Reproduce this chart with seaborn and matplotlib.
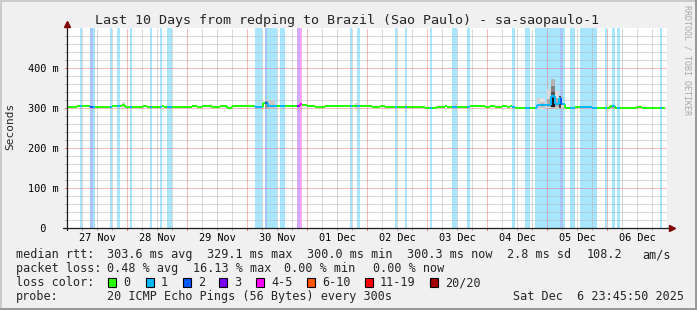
import numpy as np
import pandas as pd
import matplotlib
matplotlib.use("Agg")
import matplotlib.pyplot as plt
import seaborn as sns
from matplotlib.patches import Rectangle
from matplotlib.transforms import blended_transform_factory

# ---------------- data ----------------
day_labels = ["27 Nov", "28 Nov", "29 Nov", "30 Nov", "01 Dec",
              "02 Dec", "03 Dec", "04 Dec", "05 Dec", "06 Dec"]
y_tick_values = [0, 100, 200, 300, 400]
y_tick_labels = ["  0", "100 m", "200 m", "300 m", "400 m"]

# median rtt in ms, step function (hour offset from start of window)
median_start_h = [0.0, 4.0, 9.2, 18.0, 22.0, 23.2, 30.4, 32.0, 38.0, 38.8,
                  50.0, 52.0, 54.0, 58.0, 61.2, 64.0, 66.0, 75.2, 78.4, 80.4,
                  93.2, 94.0, 96.0, 99.2, 103.2, 122.0, 125.2, 127.2, 143.2, 148.0,
                  151.2, 152.0, 161.2, 167.2, 169.2, 171.2, 174.0, 176.0, 177.2, 178.0,
                  179.2, 188.0, 193.6, 195.2, 196.8, 197.6, 199.2, 203.2, 210.0, 217.2,
                  219.2, 228.0, 230.0]
median_ms = [302.5, 305.0, 302.5, 305.0, 307.5, 302.5, 305.0, 302.5, 305.0, 302.5,
             305.0, 302.5, 305.0, 302.5, 305.0, 300.0, 305.0, 302.5, 312.0, 305.0,
             310.0, 307.5, 305.0, 302.5, 305.0, 302.5, 305.0, 302.5, 300.0, 302.5,
             305.0, 302.5, 305.0, 302.5, 305.0, 302.5, 305.0, 302.5, 305.0, 302.5,
             300.0, 307.5, 330.0, 310.0, 325.0, 310.0, 300.0, 302.5, 300.0, 305.0,
             300.0, 302.5, 300.0]
median_end_h = 239.2

# packet loss periods (lost pings out of 20)
loss_start_h = [5.2, 9.2, 10.2, 17.2, 20.0, 25.2, 33.2, 37.2, 40.0, 75.2,
                79.2, 80.0, 85.2, 92.0, 93.2, 113.2, 116.0, 131.2, 135.2, 145.2,
                154.0, 160.0, 178.0, 183.2, 187.2, 197.2, 198.0, 201.2, 205.2, 215.2,
                218.0, 220.0, 237.2]
loss_end_h = [6.0, 10.2, 11.2, 18.0, 21.2, 26.0, 34.0, 38.0, 42.0, 78.0,
              80.0, 84.0, 87.2, 93.2, 94.0, 114.0, 117.2, 132.0, 136.0, 146.0,
              156.0, 161.2, 179.2, 185.2, 197.2, 198.0, 199.2, 203.2, 212.0, 216.0,
              219.2, 221.2, 238.0]
loss_bucket = [1, 2, 1, 1, 1, 1, 1, 1, 1, 1,
               2, 1, 1, 3, 4, 1, 1, 1, 1, 1,
               1, 1, 1, 1, 1, 2, 1, 1, 1, 1,
               1, 1, 1]

# smoke (ping spread), drawn light to dark
smoke_start_h = [22.0, 33.2, 57.2, 79.2, 79.2, 115.2, 135.2, 155.2,
                 188.0, 189.2, 189.2, 191.2, 192.0, 192.0, 193.6, 193.6, 193.6, 193.6,
                 195.2, 195.2, 196.8, 197.6, 217.2, 237.2]
smoke_end_h = [23.2, 34.0, 58.0, 83.2, 80.4, 117.2, 136.0, 156.0,
               189.2, 191.2, 191.2, 192.0, 193.6, 193.6, 195.2, 195.2, 195.2, 195.2,
               196.8, 196.8, 197.6, 199.2, 218.8, 238.4]
smoke_low_ms = [300, 300, 300, 300, 300, 300, 300, 300,
                298, 298, 300, 300, 300, 302, 300, 302, 305, 303,
                300, 302, 300, 300, 300, 300]
smoke_high_ms = [315, 310, 310, 320, 318, 312, 310, 311,
                 325, 325, 315, 312, 347, 322, 372, 355, 340, 325,
                 342, 325, 330, 315, 307, 304]
smoke_gray = ["#d8d8d8", "#d8d8d8", "#dcdcdc", "#c8c8c8", "#909090", "#d4d4d4", "#d0d0d0", "#c8c8c8",
              "#d0d0d0", "#e0e0e0", "#c0c0c0", "#d8d8d8", "#d8d8d8", "#a8a8a8", "#b4b4b4", "#808080",
              "#505050", "#1a1a1a", "#dadada", "#a8a8a8", "#484848", "#d8d8d8", "#a0a0a0", "#d8d8d8"]

loss_legend_labels = ["0", "1", "2", "3", "4-5", "6-10", "11-19", "20/20"]
loss_colors = ["#26ff00", "#00b8ff", "#0059ff", "#7e00ff",
               "#ff00ff", "#ff5500", "#ff0000", "#a10000"]

# ---------------- figure ----------------
W, H = 697, 310
sns.set_style("white")
plt.rcParams["font.family"] = ["DejaVu Sans Mono", "DejaVu Sans"]

fig = plt.figure(figsize=(W / 100, H / 100), dpi=100)
fig.patch.set_facecolor("#f0f0f0")


def fx(x):
    return x / W


def fy(y):
    return 1 - y / H


ax = fig.add_axes([fx(67), fy(228), 600 / W, 200 / H])
ax.set_facecolor("white")
ax.set_xlim(0, 240)
ax.set_ylim(0, 500)
for s in ax.spines.values():
    s.set_visible(False)
ax.set_xticks([])
ax.set_yticks([])

# loss background bars
for s, e, b in zip(loss_start_h, loss_end_h, loss_bucket):
    ax.axvspan(s, e, color=loss_colors[b], alpha=0.34, lw=0, zorder=0)

# grid
minor_c, major_c = "#b4b4b4", "#e67a7a"
dots = (0, (1, 1))
for h in range(6, 240, 6):
    if h % 24:
        ax.axvline(h, color=minor_c, lw=0.72, ls=dots, zorder=1)
for v in range(20, 500, 20):
    if v % 100:
        ax.axhline(v, color=minor_c, lw=0.72, ls=dots, zorder=1)
for h in range(24, 240, 24):
    ax.axvline(h, color=major_c, lw=0.72, ls=dots, zorder=1.5)
for v in y_tick_values[1:]:
    ax.axhline(v, color=major_c, lw=0.72, ls=dots, zorder=1.5)

# small axis ticks
for h in range(6, 240, 6):
    c = major_c if h % 24 == 0 else minor_c
    ax.plot([h, h], [-0.012, 0], transform=blended_transform_factory(ax.transData, ax.transAxes),
            color=c, lw=0.8, clip_on=False, zorder=5)
for v in range(20, 500, 20):
    c = major_c if v % 100 == 0 else minor_c
    ax.plot([-0.004, 0], [v, v], transform=blended_transform_factory(ax.transAxes, ax.transData),
            color=c, lw=0.8, clip_on=False, zorder=5)

# smoke
ax.bar(x=smoke_start_h, height=np.array(smoke_high_ms) - np.array(smoke_low_ms),
       bottom=smoke_low_ms, width=np.array(smoke_end_h) - np.array(smoke_start_h),
       align="edge", color=smoke_gray, linewidth=0, zorder=2)


# median line coloured by loss
def med_at(t):
    i = np.searchsorted(median_start_h, t, side="right") - 1
    return median_ms[i]


def loss_at(t):
    for s, e, b in zip(loss_start_h, loss_end_h, loss_bucket):
        if s <= t < e:
            return b
    return 0


bps = sorted(set([0.0, median_end_h] + median_start_h + loss_start_h + loss_end_h))
bps = [b for b in bps if b <= median_end_h]
rows = []
seg = 0
prev = None
for a, b in zip(bps[:-1], bps[1:]):
    v = med_at(a)
    lv = "L%d" % loss_at(a)
    if prev is not None and prev != v:
        rows += [(seg, a, prev, lv), (seg, a, v, lv)]
        seg += 1
    rows += [(seg, a, v, lv), (seg, b, v, lv)]
    seg += 1
    prev = v
df = pd.DataFrame(rows, columns=["seg", "t", "ms", "loss"])
pal = {"L%d" % i: c for i, c in enumerate(loss_colors)}
sns.lineplot(data=df, x="t", y="ms", hue="loss", units="seg", estimator=None,
             palette=pal, linewidth=1.44, legend=False, sort=False, ax=ax,
             zorder=4, solid_capstyle="butt")
ax.set_xlabel("")
ax.set_ylabel("")

# axes lines + arrows
axis_c = "#1e1e1e"
ax.plot([0, 0], [-0.01, 1.025], transform=ax.transAxes, color=axis_c, lw=0.9,
        clip_on=False, zorder=5)
ax.plot([-0.006, 1.006], [0, 0], transform=ax.transAxes, color=axis_c, lw=0.9,
        clip_on=False, zorder=5)
ax.plot([0], [1.02], marker="^", ms=4.5, color="#7f0000", transform=ax.transAxes,
        clip_on=False, zorder=6)
ax.plot([1.008], [0], marker=">", ms=4.5, color="#7f0000", transform=ax.transAxes,
        clip_on=False, zorder=6)

# tick labels
tf = blended_transform_factory(fig.transFigure, ax.transData)
for v, lab in zip(y_tick_values, y_tick_labels):
    ax.text(fx(28), v, lab, transform=tf, fontsize=7.4, ha="left",
            va="center_baseline", color="black")
tx = blended_transform_factory(ax.transData, fig.transFigure)
for k, lab in enumerate(day_labels):
    ax.text(12 + 24 * k, fy(241), lab, transform=tx, fontsize=7.4,
            ha="center", va="baseline", color="black")

# title, y label, watermark
fig.text(fx(347), fy(24), "Last 10 Days from redping to Brazil (Sao Paulo) - sa-saopaulo-1",
         fontsize=9.6, ha="center", va="baseline")
fig.text(fx(10.5), fy(126.5), "Seconds", rotation=90, fontsize=8.0,
         ha="center", va="center")
fig.text(fx(687), fy(60), "RRDTOOL / TOBI OETIKER", rotation=-90, fontsize=6.0,
         ha="center", va="center", color="#a8a8a8")

# legend rows
fs = 8.5
row1 = [(16, "median rtt:"), (107, "303.6 ms avg"), (207, "329.1 ms max"),
        (307, "300.0 ms min"), (407, "300.3 ms now"), (507, "2.8 ms sd"),
        (587, "108.2"), (642, "am/s")]
row2 = [(16, "packet loss:"), (107, "0.48 % avg"), (193, "16.13 % max"),
        (284, "0.00 % min"), (373, "0.00 % now")]
row4 = [(16, "probe:"), (107, "20 ICMP Echo Pings (56 Bytes) every 300s"),
        (513, "Sat Dec  6 23:45:50 2025")]
for x, s in row1:
    fig.text(fx(x), fy(258), s, fontsize=fs, va="baseline")
for x, s in row2:
    fig.text(fx(x), fy(272), s, fontsize=fs, va="baseline")
for x, s in row4:
    fig.text(fx(x), fy(300), s, fontsize=fs, va="baseline")
fig.text(fx(16), fy(286), "loss color:", fontsize=fs, va="baseline")
box_x = [108, 146, 183, 219, 256, 307, 365, 430]
for bx, lab, c in zip(box_x, loss_legend_labels, loss_colors):
    fig.patches.append(Rectangle((fx(bx), fy(286.5)), 8 / W, 8.5 / H,
                                 transform=fig.transFigure, facecolor=c,
                                 edgecolor="black", lw=0.8))
    fig.text(fx(bx + 15), fy(286), lab, fontsize=fs, va="baseline")

# 3D frame
fig.patches.append(Rectangle((0, fy(2)), 1, 2 / H, transform=fig.transFigure,
                             facecolor="#cbcbcb", lw=0))
fig.patches.append(Rectangle((0, 0), 2 / W, 1, transform=fig.transFigure,
                             facecolor="#cbcbcb", lw=0))
fig.patches.append(Rectangle((0, 0), 1, 2 / H, transform=fig.transFigure,
                             facecolor="#999999", lw=0))
fig.patches.append(Rectangle((fx(695), 0), 2 / W, 1, transform=fig.transFigure,
                             facecolor="#999999", lw=0))

fig.savefig("out.png", dpi=100, facecolor=fig.get_facecolor())
